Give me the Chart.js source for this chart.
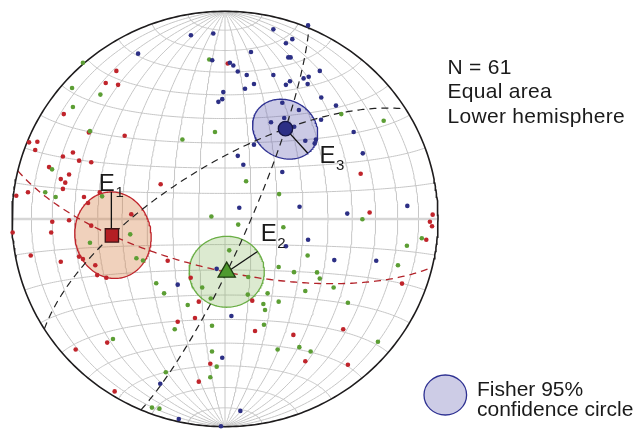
<!DOCTYPE html>
<html>
<head>
<meta charset="utf-8">
<script src="https://cdn.jsdelivr.net/npm/chart.js@4.4.0/dist/chart.umd.min.js"></script>
<style>
    html, body { margin: 0; padding: 0; background: #fff; }
    #wrap { width: 636px; height: 438px; }
</style>
</head>
<body>
<div id="wrap"><canvas id="chart1" width="636" height="438"></canvas></div>
<script>
// Positions (equal-area, lower hemisphere, primitive radius = 1)
var redX = [-0.510, -0.560, -0.502, -0.757, -0.639, -0.471, -0.920, -0.881, -0.891, -0.761,
    -0.714, -0.685, -0.628, -0.826, -0.732, -0.771, -0.750, -0.761, -0.925, -0.980,
    -0.662, -0.588, -0.643, -0.440, -0.732, -0.811, -0.628, -0.997, -0.816, -0.912,
    -0.685, -0.667, -0.771, -0.609, -0.600, -0.557, 0.013, -0.302, -0.269, -0.161,
    0.637, 0.679, 0.975, 0.962, 0.972, 0.945, 0.831, -0.553, -0.701, -0.518,
    -0.123, 0.128, -0.141, -0.222, 0.141, 0.321, -0.069, -0.123, 0.555, 0.377, 0.577];
var redY = [0.713, 0.655, 0.646, 0.505, 0.417, 0.401, 0.369, 0.372, 0.332, 0.301,
    0.320, 0.281, 0.273, 0.250, 0.214, 0.192, 0.175, 0.145, 0.129, 0.112,
    0.106, 0.128, 0.077, 0.023, -0.006, -0.013, -0.032, -0.065, -0.065, -0.176,
    -0.181, -0.193, -0.206, -0.223, -0.270, -0.283, 0.749, 0.167, -0.201, -0.283,
    0.218, 0.031, 0.021, -0.013, -0.035, -0.100, -0.311, -0.595, -0.628, -0.830,
    -0.398, -0.393, -0.477, -0.495, -0.539, -0.558, -0.697, -0.783, -0.531, -0.685, -0.702];

var greenX = [-0.667, -0.718, -0.585, -0.714, -0.634, -0.812, -0.844, -0.795, -0.577, -0.445,
    -0.634, -0.416, -0.385, -0.323, -0.074, -0.047, -0.200, 0.546, 0.745, 0.099,
    0.254, -0.064, 0.062, 0.274, 0.020, 0.109, 0.252, 0.324, -0.107, -0.286,
    0.107, 0.200, 0.645, 0.924, 0.854, 0.388, 0.812, 0.432, 0.445, 0.377,
    0.510, -0.526, -0.343, -0.308, -0.067, -0.175, 0.180, 0.252, 0.188, -0.236,
    -0.061, 0.183, 0.247, 0.349, -0.061, -0.039, -0.278, -0.069, 0.577, 0.718, 0.402];
var greenY = [0.752, 0.631, 0.599, 0.539, 0.423, 0.239, 0.129, 0.106, 0.109, -0.074,
    -0.114, -0.189, -0.200, -0.309, 0.768, 0.419, 0.383, 0.505, 0.473, 0.182,
    0.120, 0.012, -0.027, -0.040, -0.151, -0.279, -0.231, -0.256, -0.330, -0.358,
    -0.364, -0.358, -0.001, -0.093, -0.129, -0.176, -0.223, -0.257, -0.287, -0.347,
    -0.330, -0.578, -0.908, -0.913, -0.383, -0.414, -0.409, -0.398, -0.438, -0.531,
    -0.514, -0.509, -0.628, -0.617, -0.638, -0.711, -0.738, -0.762, -0.403, -0.591, -0.638];

var blueX = [-0.408, -0.160, -0.055, 0.227, 0.316, 0.286, 0.122, 0.297, 0.308, -0.060,
    0.023, 0.039, 0.060, 0.102, 0.227, 0.305, 0.286, 0.136, 0.094, -0.008,
    -0.013, -0.031, 0.269, 0.347, 0.278, 0.216, 0.325, 0.136, 0.060, 0.390,
    0.445, 0.393, 0.369, 0.388, 0.452, 0.521, 0.451, 0.604, 0.377, 0.421,
    0.427, 0.647, 0.086, 0.269, 0.067, 0.350, 0.286, -0.039, -0.222, 0.574,
    0.856, 0.390, 0.513, 0.710, 0.030, -0.013, -0.304, -0.217, 0.072, -0.019];
var blueY = [0.796, 0.885, 0.893, 0.913, 0.866, 0.846, 0.804, 0.778, 0.778, 0.764,
    0.752, 0.739, 0.710, 0.693, 0.693, 0.663, 0.646, 0.650, 0.627, 0.611,
    0.577, 0.564, 0.560, 0.525, 0.486, 0.466, 0.444, 0.358, 0.304, 0.932,
    0.713, 0.685, 0.677, 0.650, 0.585, 0.546, 0.478, 0.419, 0.377, 0.364,
    0.383, 0.316, 0.261, 0.226, 0.054, 0.059, -0.131, -0.240, -0.316, 0.026,
    0.063, -0.100, -0.198, -0.201, -0.467, -0.668, -0.793, -0.963, -0.924, -0.998];

// Mean directions E1, E2, E3 and their Fisher 95% cones (degrees)
var meanNames = ["1", "2", "3"];
var meanX = [-0.531, 0.008, 0.284];
var meanY = [-0.079, -0.256, 0.435];
var alpha95 = [15.7, 14.1, 12.0];
var radiusDir = [90, 33.7, -48.4];   // direction of the alpha95 radius tick

var gridStep = 10;   // net spacing, degrees
var infoLines = ["N = 61", "Equal area", "Lower hemisphere"];
var legendLines = ["Fisher 95%", "confidence circle"];

var RED = "#c0242b", GREEN = "#5c9e34", BLUE = "#2c2f85";
var GRID = "#c6c6c6";
var FONT = '"Liberation Sans", Arial, sans-serif';

// --- projection helpers (Lambert equal area, lower hemisphere) ---
function project(v) {
    var k = 1 / Math.sqrt(1 + v[2]);
    return { x: v[0] * k, y: v[1] * k };
}
function unproject(x, y) {
    var r2 = x * x + y * y, s = Math.sqrt(2 - r2);
    return [x * s, y * s, 1 - r2];
}
function cross(a, b) {
    return [a[1] * b[2] - a[2] * b[1], a[2] * b[0] - a[0] * b[2], a[0] * b[1] - a[1] * b[0]];
}
function norm(a) {
    var l = Math.hypot(a[0], a[1], a[2]);
    return [a[0] / l, a[1] / l, a[2] / l];
}
var D2R = Math.PI / 180;

function meridian(dip, side) {
    var pts = [];
    for (var t = -90; t <= 90; t += 1) {
        var c = Math.cos(t * D2R);
        pts.push(project([side * c * Math.cos(dip * D2R), Math.sin(t * D2R), c * Math.sin(dip * D2R)]));
    }
    return pts;
}
function parallel(lat) {
    var pts = [];
    for (var s = 0; s <= 180; s += 1) {
        var c = Math.cos(lat * D2R);
        pts.push(project([c * Math.cos(s * D2R), Math.sin(lat * D2R), c * Math.sin(s * D2R)]));
    }
    return pts;
}
function primitive() {
    var pts = [];
    for (var s = 0; s <= 360; s += 1) pts.push({ x: Math.cos(s * D2R), y: Math.sin(s * D2R) });
    return pts;
}
function greatCircle(i, j) {
    var a = norm(unproject(meanX[i], meanY[i]));
    var b = norm(unproject(meanX[j], meanY[j]));
    var n = norm(cross(a, b));
    var w = norm(cross(n, a));
    var mid = Math.atan2(w[2], a[2]);
    var pts = [];
    for (var k = 0; k <= 180; k++) {
        var t = mid - Math.PI / 2 + k * Math.PI / 180;
        var c = Math.cos(t), s = Math.sin(t);
        pts.push(project([a[0] * c + w[0] * s, a[1] * c + w[1] * s, Math.max(0, a[2] * c + w[2] * s)]));
    }
    return pts;
}
function cone(i) {
    var m = norm(unproject(meanX[i], meanY[i]));
    var e1 = norm(cross(m, [0, 0, 1]));
    var e2 = cross(m, e1);
    var a = alpha95[i] * D2R, pts = [];
    for (var s = 0; s <= 360; s += 2) {
        var cs = Math.cos(s * D2R), sn = Math.sin(s * D2R);
        pts.push(project([
            m[0] * Math.cos(a) + (e1[0] * cs + e2[0] * sn) * Math.sin(a),
            m[1] * Math.cos(a) + (e1[1] * cs + e2[1] * sn) * Math.sin(a),
            m[2] * Math.cos(a) + (e1[2] * cs + e2[2] * sn) * Math.sin(a)
        ]));
    }
    return pts;
}
function radiusEnd(i, poly) {
    var best = poly[0], bestD = 1e9, want = radiusDir[i] * D2R;
    poly.forEach(function (p) {
        var ang = Math.atan2(p.y - meanY[i], p.x - meanX[i]);
        var d = Math.abs(Math.atan2(Math.sin(ang - want), Math.cos(ang - want)));
        if (d < bestD) { bestD = d; best = p; }
    });
    return best;
}
function toPoints(xs, ys) {
    return xs.map(function (x, k) { return { x: x, y: ys[k] }; });
}

// --- datasets, bottom to top ---
var datasets = [];
function lineSet(data, color, width, extra) {
    var ds = {
        data: data, borderColor: color, borderWidth: width, pointRadius: 0,
        fill: false, tension: 0, showLine: true
    };
    for (var k in extra) ds[k] = extra[k];
    datasets.push(ds);
    return ds;
}

for (var d = gridStep; d < 90; d += gridStep) {
    lineSet(meridian(d, 1), GRID, 1);
    lineSet(meridian(d, -1), GRID, 1);
}
lineSet(meridian(90, 1), GRID, 1);
for (var lat = -90 + gridStep; lat < 90; lat += gridStep) {
    if (lat !== 0) lineSet(parallel(lat), GRID, 1);
}
lineSet(parallel(0), "#d6d6d6", 2.5);

var coneFill = ["rgba(214,128,70,0.36)", "rgba(140,184,98,0.30)", "rgba(110,108,184,0.36)"];
var coneLine = [RED, "#6aae45", "#2e3192"];
var cones = [0, 1, 2].map(cone);
cones.forEach(function (poly, i) {
    lineSet(poly, coneLine[i], 1.3, { fill: "shape", backgroundColor: coneFill[i] });
});

lineSet(greatCircle(0, 2), "#222", 1.2, { borderDash: [7, 5] });
lineSet(greatCircle(1, 2), "#222", 1.2, { borderDash: [7, 5] });
lineSet(greatCircle(0, 1), "#b3232a", 1.3, { borderDash: [7, 5] });

lineSet(primitive(), "#1e1c1d", 1.6);

[[redX, redY, RED], [greenX, greenY, GREEN], [blueX, blueY, BLUE]].forEach(function (s) {
    datasets.push({
        data: toPoints(s[0], s[1]), showLine: false, pointRadius: 2.3,
        pointBackgroundColor: s[2], pointBorderWidth: 0, borderColor: s[2]
    });
});

var radiusEnds = cones.map(function (poly, i) { return radiusEnd(i, poly); });
radiusEnds.forEach(function (p, i) {
    lineSet([{ x: meanX[i], y: meanY[i] }, p], "#111", 1.3);
});

var meanStyle = [
    { pointStyle: "rect", pointRadius: 9.4, pointBackgroundColor: "#b41f24", pointBorderColor: "#3d1515" },
    { pointStyle: "triangle", pointRadius: 10, pointBackgroundColor: "#4f9a2e", pointBorderColor: "#1f3a12" },
    { pointStyle: "circle", pointRadius: 7.2, pointBackgroundColor: "#2c2f85", pointBorderColor: "#151646" }
];
meanStyle.forEach(function (st, i) {
    var ds = { data: [{ x: meanX[i], y: meanY[i] }], showLine: false, pointBorderWidth: 1.3 };
    for (var k in st) ds[k] = st[k];
    datasets.push(ds);
});

datasets.forEach(function (ds, i) { ds.order = datasets.length - i; });

// --- text and legend ---
var labelOffset = [[-12.5, -1], [3.3, -10], [11.7, 10]];
var textPlugin = {
    id: "netText",
    afterDatasetsDraw: function (chart) {
        var ctx = chart.ctx, xs = chart.scales.x, ys = chart.scales.y;
        ctx.save();
        ctx.fillStyle = "#1a1a1a";
        ctx.textBaseline = "alphabetic";

        radiusEnds.forEach(function (p, i) {
            var px = xs.getPixelForValue(p.x) + labelOffset[i][0];
            var py = ys.getPixelForValue(p.y) + labelOffset[i][1];
            ctx.font = "24px " + FONT;
            ctx.fillText("E", px, py);
            var w = ctx.measureText("E").width;
            ctx.font = "15px " + FONT;
            ctx.fillText(meanNames[i], px + w + 0.5, py + 6.5);
        });

        ctx.font = "21px " + FONT;
        ctx.letterSpacing = "0.3px";
        infoLines.forEach(function (t, k) { ctx.fillText(t, 447.5, 73.8 + k * 24.5); });
        ctx.letterSpacing = "0px";

        ctx.beginPath();
        ctx.ellipse(445.3, 395, 21.3, 20, 0, 0, Math.PI * 2);
        ctx.fillStyle = "#cdcce6";
        ctx.fill();
        ctx.lineWidth = 1.3;
        ctx.strokeStyle = "#2e3192";
        ctx.stroke();

        ctx.fillStyle = "#1a1a1a";
        legendLines.forEach(function (t, k) { ctx.fillText(t, 477, 396 + k * 19.5); });
        ctx.restore();
    }
};

new Chart(document.getElementById("chart1").getContext("2d"), {
    type: "line",
    data: { datasets: datasets },
    options: {
        responsive: false,
        devicePixelRatio: 1,
        animation: false,
        events: [],
        layout: { padding: { left: 12, top: 8.5, right: 198, bottom: 3.5 } },
        scales: {
            x: { type: "linear", min: -1, max: 1, display: false },
            y: { type: "linear", min: -1, max: 1, display: false }
        },
        datasets: { line: { clip: false, spanGaps: true } },
        plugins: { legend: { display: false }, tooltip: { enabled: false } }
    },
    plugins: [textPlugin]
});
</script>
</body>
</html>
